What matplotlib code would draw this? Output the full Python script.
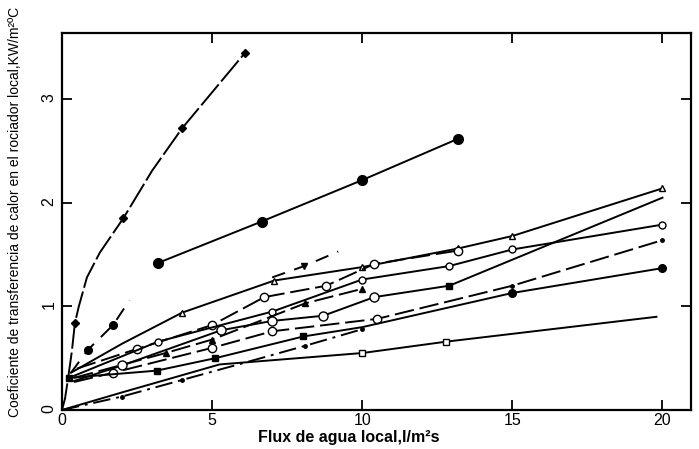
import numpy as np
import matplotlib
matplotlib.use('Agg')
import matplotlib.pyplot as plt

plt.rcParams['font.family'] = ['Liberation Sans', 'DejaVu Sans']

# top curve, filled markers
a_x = [0, 0.1, 0.2, 0.33, 0.43, 0.56, 0.83, 1.26, 2.04, 3.0, 4.0, 6.1]
a_y = [0, 0.11, 0.3, 0.57, 0.84, 1.0, 1.28, 1.52, 1.85, 2.31, 2.72, 3.45]
a_mk = [4, 8, 10, 11]

# second curve, big filled circles
b_x = [3.2, 6.65, 10.0, 13.2]
b_y = [1.42, 1.82, 2.22, 2.62]

# dashed curve (gap in the scan)
c_x = [0.3, 0.86, 1.7, 2.25, np.nan, 7.0, 8.07, 9.2]
c_y = [0.36, 0.58, 0.82, 1.06, np.nan, 1.28, 1.39, 1.53]

# bundle of lower curves
b1_x = [0.3, 2.0, 4.0, 7.07, 10.0, 13.2, 15.0, 20.0]
b1_y = [0.36, 0.64, 0.94, 1.25, 1.38, 1.56, 1.68, 2.14]
b2_x = [0.5, 2.5, 5.0, 6.74, 8.8, 10.4, 13.2]
b2_y = [0.40, 0.59, 0.82, 1.09, 1.20, 1.41, 1.54]
b3_x = [0.4, 3.2, 7.0, 10.0, 12.9, 15.0, 20.0]
b3_y = [0.33, 0.66, 0.95, 1.26, 1.39, 1.55, 1.79]
b4_x = [0.4, 3.45, 5.0, 8.1, 10.0]
b4_y = [0.31, 0.55, 0.68, 1.03, 1.17]
b5_x = [0.4, 2.0, 5.3, 7.0, 8.7, 10.4, 12.9, 20.0]
b5_y = [0.28, 0.43, 0.77, 0.86, 0.91, 1.09, 1.20, 2.05]
b6_x = [0.4, 1.7, 5.0, 7.0, 10.5, 15.0, 20.0]
b6_y = [0.27, 0.36, 0.60, 0.76, 0.88, 1.20, 1.64]
b7_x = [0.23, 3.15, 5.1, 8.04, 10.0, 15.0, 20.0]
b7_y = [0.31, 0.38, 0.50, 0.71, 0.80, 1.13, 1.37]
b8_x = [0, 2.0, 4.0, 6.0, 8.1, 10.0]
b8_y = [0, 0.13, 0.29, 0.45, 0.62, 0.78]
b9_x = [0, 2.0, 5.25, 10.0, 12.8, 19.8]
b9_y = [0, 0.17, 0.44, 0.55, 0.66, 0.90]

fig = plt.figure(figsize=(6.99, 4.49), dpi=100)
ax = fig.add_axes([62/699., 1-410/449., 629/699., 377/449.])

k = 'k'
lw = 1.4
dash = (0, (10, 3))
ax.plot(a_x, a_y, color=k, lw=lw, ls=(0, (14, 2)), marker='D', ms=4.5,
        markevery=a_mk)
ax.plot(b_x, b_y, color=k, lw=lw, marker='o', ms=7)
ax.plot(c_x, c_y, color=k, lw=lw, ls=(0, (7, 5)), marker='o', ms=5.5,
        markevery=[1, 2])
ax.plot(c_x[6], c_y[6], 'kv', ms=4)

ax.plot(b1_x, b1_y, color=k, lw=lw, marker='^', ms=5, mfc='w',
        markevery=[2, 3, 4, 5, 6, 7])
ax.plot(b2_x, b2_y, color=k, lw=lw, ls=dash, marker='o', ms=6, mfc='w',
        markevery=[1, 2, 3, 4, 5, 6])
ax.plot(b3_x, b3_y, color=k, lw=lw, marker='o', ms=5, mfc='w',
        markevery=[1, 2, 3, 4, 5, 6])
ax.plot(b4_x, b4_y, color=k, lw=lw, ls=dash, marker='^', ms=4,
        markevery=[1, 2, 3, 4])
ax.plot(b5_x, b5_y, color=k, lw=lw, marker='o', ms=6.5, mfc='w',
        markevery=[1, 2, 3, 4, 5])
ax.plot(b5_x[6], b5_y[6], 'ks', ms=4.5)
ax.plot(b6_x, b6_y, color=k, lw=lw, ls=dash, marker='o', ms=6, mfc='w',
        markevery=[1, 2, 3, 4])
ax.plot(b6_x[5:], b6_y[5:], 'k.', ms=5)
ax.plot(b7_x, b7_y, color=k, lw=lw, marker='s', ms=4.5,
        markevery=[0, 1, 2, 3])
ax.plot(b7_x[5:], b7_y[5:], 'ko', ms=5.5)
ax.plot(b8_x, b8_y, color=k, lw=lw, ls=(0, (9, 3, 1.5, 3)), marker='.',
        ms=5, markevery=[1, 2, 4, 5])
ax.plot(b9_x, b9_y, color=k, lw=lw, marker='s', ms=5, mfc='w',
        markevery=[3, 4])

ax.set_xlim(0, 20.95)
ax.set_ylim(0, 3.64)
ax.set_xticks([0, 5, 10, 15, 20])
ax.set_yticks([0, 1, 2, 3])
ax.tick_params(direction='in', length=7, width=1.3, top=True, right=True,
               labelsize=11.5, pad=2)
ax.tick_params(axis='y', labelrotation=90, pad=4)
for s in ax.spines.values():
    s.set_linewidth(1.6)

ax.set_xlabel('Flux de agua local,l/m²s', fontsize=11.5, fontweight='bold')
ax.xaxis.set_label_coords(0.456, -0.052)
ax.set_ylabel('Coeficiente de transferencia de calor en el rociador local,KW/m²ºC',
              fontsize=10)
ax.yaxis.set_label_coords(-0.064, 0.525)

plt.savefig('out.png', dpi=100)
